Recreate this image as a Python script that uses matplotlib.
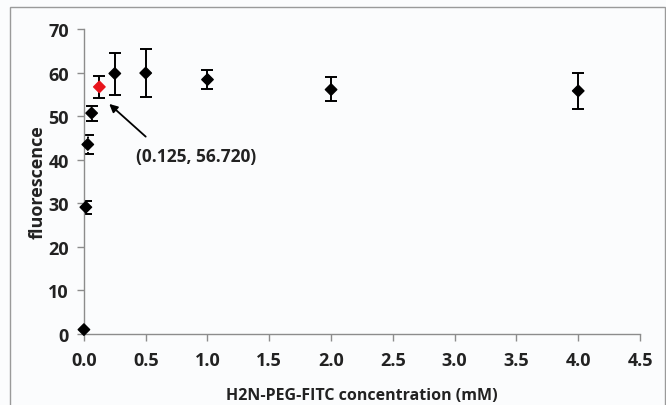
import matplotlib.pyplot as plt
from matplotlib.patches import Rectangle

# concentration (mM) and fluorescence readings
conc = [0, 0.015625, 0.03125, 0.0625, 0.125, 0.25, 0.5, 1.0, 2.0, 4.0]
fluor = [1.0, 29.1, 43.5, 50.7, 56.72, 59.8, 59.9, 58.4, 56.1, 55.8]
err_lo = [0, 1.6, 2.3, 1.8, 2.5, 4.9, 5.6, 2.2, 2.7, 4.1]
err_hi = [0, 1.5, 2.2, 1.7, 2.5, 4.8, 5.5, 2.1, 2.8, 4.0]
dotted_err = [1, 2, 3]
red_idx = 4
xticks = [0.0, 0.5, 1.0, 1.5, 2.0, 2.5, 3.0, 3.5, 4.0, 4.5]
yticks = [0, 10, 20, 30, 40, 50, 60, 70]

plt.rcParams['font.family'] = ['Open Sans', 'DejaVu Sans']
plt.rcParams['font.weight'] = 'bold'

fig = plt.figure(figsize=(6.66, 4.06), dpi=100, facecolor='#fbfcfd')
fig.patches.append(Rectangle((0.015, -0.05), 0.984, 1.03, transform=fig.transFigure,
                             fill=False, edgecolor='#9a9a9a', linewidth=1.0))
ax = fig.add_axes([0.126, 0.175, 0.835, 0.751])
ax.set_facecolor('#fbfcfd')

for i in range(len(conc)):
    if i == 0:
        continue
    ls = ':' if i in dotted_err else '-'
    eb = ax.errorbar(conc[i], fluor[i], yerr=[[err_lo[i]], [err_hi[i]]], fmt='none',
                     ecolor='black', elinewidth=1.4, capsize=4.5, capthick=1.4, zorder=2)
    for ln in eb[2]:
        ln.set_linestyle(ls)

colors = ['black'] * len(conc)
colors[red_idx] = '#e8141c'
ax.scatter(conc, fluor, marker='D', s=34, c=colors, zorder=3, clip_on=False)

# arrow pointing at the highlighted point, label placed below
ax.annotate('', xy=(0.205, 52.8), xytext=(0.50, 45.3),
            arrowprops=dict(arrowstyle='-|>', color='black', lw=1.3, shrinkA=0, shrinkB=0,
                            mutation_scale=12))
ax.text(0.905, 40.9, '(0.125, 56.720)', ha='center', va='center', fontsize=12.5,
        fontweight='bold', color='#222222')

ax.set_xlim(0, 4.5)
ax.set_ylim(0, 70)
ax.set_xticks(xticks)
ax.set_xticklabels([f'{t:.1f}' for t in xticks])
ax.set_yticks(yticks)
ax.spines['top'].set_visible(False)
ax.spines['right'].set_visible(False)
for s in ['left', 'bottom']:
    ax.spines[s].set_color('#8c8c8c')
    ax.spines[s].set_linewidth(1.0)
ax.tick_params(axis='both', colors='#8c8c8c', labelcolor='#222222', labelsize=13,
               length=5, width=1.0, direction='out')
ax.tick_params(axis='x', pad=7)
ax.tick_params(axis='y', pad=6)
ax.set_xlabel('H2N-PEG-FITC concentration (mM)', fontsize=11.5, fontweight='bold',
              color='#222222', labelpad=13)
ax.set_ylabel('fluorescence', fontsize=13, fontweight='bold', color='#222222', labelpad=1)

fig.savefig('out.png', dpi=100, facecolor=fig.get_facecolor())
